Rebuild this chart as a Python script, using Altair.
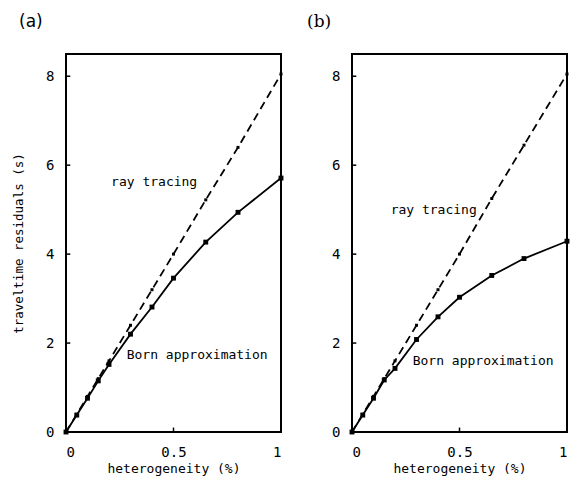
import altair as alt
import pandas as pd

# heterogeneity (%)
het = [0, 0.05, 0.1, 0.15, 0.2, 0.3, 0.4, 0.5, 0.65, 0.8, 1.0]
# panel (a)
ray_a = [0, 0.4, 0.8, 1.2, 1.6, 2.4, 3.2, 4.0, 5.22, 6.4, 8.05]
born_a = [0, 0.38, 0.76, 1.15, 1.52, 2.2, 2.81, 3.46, 4.27, 4.94, 5.71]
# panel (b)
ray_b = [0, 0.4, 0.8, 1.2, 1.6, 2.4, 3.2, 4.0, 5.25, 6.45, 8.05]
born_b = [0, 0.38, 0.76, 1.17, 1.43, 2.08, 2.59, 3.03, 3.52, 3.9, 4.29]

x_ticks = [0, 0.5, 1]
y_ticks = [0, 2, 4, 6, 8]
inner_y_ticks = [2, 4, 6, 8]
inner_x_ticks = [0.5]

labels = ["ray tracing", "Born approximation"]
label_x_a = [0.41, 0.61]
label_y_a = [5.62, 1.73]
label_x_b = [0.38, 0.61]
label_y_b = [4.99, 1.6]

MONO = "DejaVu Sans Mono"
W, H = 215, 378


def panel(ray, born, lx, ly, title, title_font, title_dx, show_ytitle):
    df = pd.DataFrame({"x": het, "ray": ray, "born": born})
    lab = pd.DataFrame({"t": labels, "x": lx, "y": ly})
    xs = alt.Scale(domain=[0, 1], nice=False)
    ys = alt.Scale(domain=[0, 8.5], nice=False)
    xax = alt.Axis(values=x_ticks, labelExpr="datum.value", ticks=False, tickSize=0,
                   domain=False, grid=False, title="heterogeneity (%)",
                   labelPadding=13, titlePadding=3, labelFont=MONO, labelFontSize=14,
                   titleFont=MONO, titleFontSize=13, titleFontWeight="normal",
                   labelColor="black", titleColor="black")
    yax_kw = dict(values=y_ticks, ticks=False, tickSize=0, domain=False, grid=False,
                  labelPadding=12, labelFont=MONO, labelFontSize=14, labelColor="black")
    if show_ytitle:
        yax = alt.Axis(title="traveltime residuals (s)", titlePadding=20, titleFont=MONO,
                       titleFontSize=12.5, titleFontWeight="normal", titleColor="black",
                       **yax_kw)
    else:
        yax = alt.Axis(title=None, **yax_kw)
    X = alt.X("x:Q", scale=xs, axis=xax)
    base = alt.Chart(df)
    dashed = base.mark_line(color="black", strokeWidth=1.8, strokeDash=[8, 5]).encode(
        x=X, y=alt.Y("ray:Q", scale=ys, axis=yax))
    ray_pts = base.mark_square(color="black", size=9, opacity=1).encode(
        x=X, y=alt.Y("ray:Q", scale=ys, axis=yax))
    solid = base.mark_line(color="black", strokeWidth=1.8).encode(
        x=X, y=alt.Y("born:Q", scale=ys, axis=yax))
    born_pts = base.mark_square(color="black", size=24, opacity=1).encode(
        x=X, y=alt.Y("born:Q", scale=ys, axis=yax))
    text = alt.Chart(lab).mark_text(font=MONO, fontSize=13, color="black").encode(
        x=alt.X("x:Q", scale=xs, axis=xax), y=alt.Y("y:Q", scale=ys, axis=yax), text="t:N")
    yt = alt.Chart(pd.DataFrame({"v": inner_y_ticks})).mark_rule(color="black", strokeWidth=1.5).encode(
        x=alt.datum(0, scale=xs, axis=xax), x2=alt.datum(0.02), y=alt.Y("v:Q", scale=ys, axis=yax))
    xt = alt.Chart(pd.DataFrame({"v": inner_x_ticks})).mark_rule(color="black", strokeWidth=1.5).encode(
        x=alt.X("v:Q", scale=xs, axis=xax), y=alt.datum(0, scale=ys, axis=yax), y2=alt.datum(0.1))
    return alt.layer(dashed, ray_pts, solid, born_pts, text, yt, xt).properties(
        width=W, height=H,
        title=alt.TitleParams(title, anchor="start", frame="group", dx=title_dx, offset=23,
                              font=title_font, fontSize=17, fontWeight="normal", color="black"))


pa = panel(ray_a, born_a, label_x_a, label_y_a, "(a)", "DejaVu Sans", -47, True)
pb = panel(ray_b, born_b, label_x_b, label_y_b, "(b)", "DejaVu Serif", -45, False)

chart = alt.hconcat(pa, pb, spacing=71, bounds="flush").properties(
    padding={"left": 3, "top": 4, "right": 0, "bottom": 0}
).configure_view(stroke="black", strokeWidth=2)

chart.save("out.html", embed_options={"renderer": "svg", "actions": False})
